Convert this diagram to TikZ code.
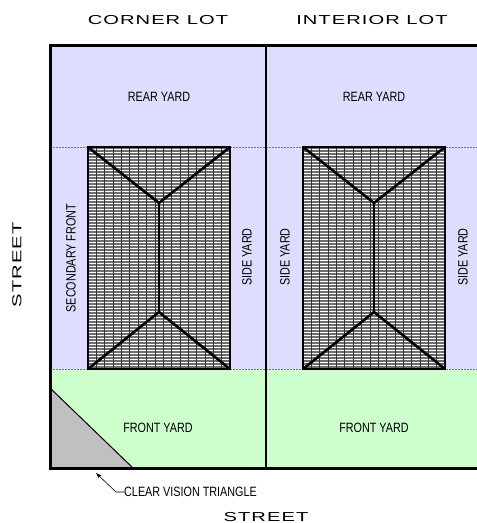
\documentclass[tikz,border=0pt]{standalone}
\usepackage{fontspec}
\setmainfont{Liberation Sans}
\newfontfamily\estreita[FakeStretch=0.8]{Liberation Sans}
\newfontfamily\larga[FakeStretch=1.55,LetterSpace=8]{Liberation Sans}
\usetikzlibrary{arrows.meta}
\definecolor{azul}{HTML}{DDDDFF}
\definecolor{verde}{HTML}{CCFFCC}
\definecolor{cinza}{HTML}{C0C0C0}
\definecolor{telha}{HTML}{6E6E6E}
\tikzset{
  rotulo/.style={font=\estreita\fontsize{13.5}{15}\selectfont, inner sep=0pt},
  titulo/.style={font=\larga\fontsize{13}{15}\selectfont, inner sep=0pt},
  limite/.style={line width=3pt},
  recuo/.style={black!55, line width=0.7pt, dash pattern=on 2pt off 1pt},
  telhado/.style={line width=2.6pt, line join=miter}
}
% casa com telhado de quatro aguas, #1 = borda esquerda
\newcommand{\casa}[1]{
  \fill[telha] (#1,147) rectangle ++(142,222);
  \foreach \y in {149,152,...,367} \draw[white, line width=0.9pt] (#1,\y) -- ++(142,0);
  \foreach \k in {1,...,16} \draw[black!80, line width=0.6pt] (#1+\k*8.35,147) -- ++(0,222);
  \draw[telhado] (#1,147) rectangle ++(142,222);
  \draw[telhado] (#1,147) -- (#1+71,203) -- (#1+142,147);
  \draw[telhado] (#1,369) -- (#1+71,312) -- (#1+142,369);
  \draw[telhado] (#1+71,203) -- (#1+71,312);
}
\begin{document}
\begin{tikzpicture}[x=1pt,y=-1pt] %Desenho em pixels
  \useasboundingbox (0,0) rectangle (477,523);
      %Areas dos lotes
  \fill[azul] (50,45) rectangle (477,369); %Fundos e laterais
  \fill[verde] (50,369) rectangle (477,468); %Frente
  \fill[cinza] (50,388) -- (50,468) -- (133,468) -- cycle; %Triangulo de visibilidade
  \draw[line width=1pt] (50,388) -- (133,468);
      %Recuos
  \draw[recuo] (50,147) -- (477,147);
  \draw[recuo] (50,369) -- (477,369);
      %Casas
  \casa{88}
  \casa{303}
      %Limites
  \draw[limite] (477,45) -- (50,45) -- (50,468) -- (477,468);
  \draw[line width=2.6pt] (266,45) -- (266,468);
      %Textos
  \node[titulo] (tituloC) at (158,20) {CORNER LOT};
  \node[titulo] (tituloI) at (372,20) {INTERIOR LOT};
  \node[titulo] (ruaB) at (266,517) {STREET};
  \node[titulo, rotate=90] (ruaE) at (17,265) {STREET};
  \node[rotulo] (fundoC) at (159,97) {REAR YARD};
  \node[rotulo] (fundoI) at (374,97) {REAR YARD};
  \node[rotulo] (frenteC) at (158,428) {FRONT YARD};
  \node[rotulo] (frenteI) at (374,428) {FRONT YARD};
  \node[rotulo, rotate=90] (secC) at (71,258) {SECONDARY FRONT};
  \node[rotulo, rotate=90] (ladoC) at (247,257) {SIDE YARD};
  \node[rotulo, rotate=90] (ladoI1) at (285,257) {SIDE YARD};
  \node[rotulo, rotate=90] (ladoI2) at (463,257) {SIDE YARD};
  \node[rotulo, anchor=west] (cvt) at (124,492) {CLEAR VISION TRIANGLE};
  \coordinate (ponta) at (96,473);
  \draw[-{Stealth[length=6pt,width=4pt]}, line width=0.6pt] (cvt.west) -- ++(-8,0) -- (ponta);
\end{tikzpicture}
\end{document}
